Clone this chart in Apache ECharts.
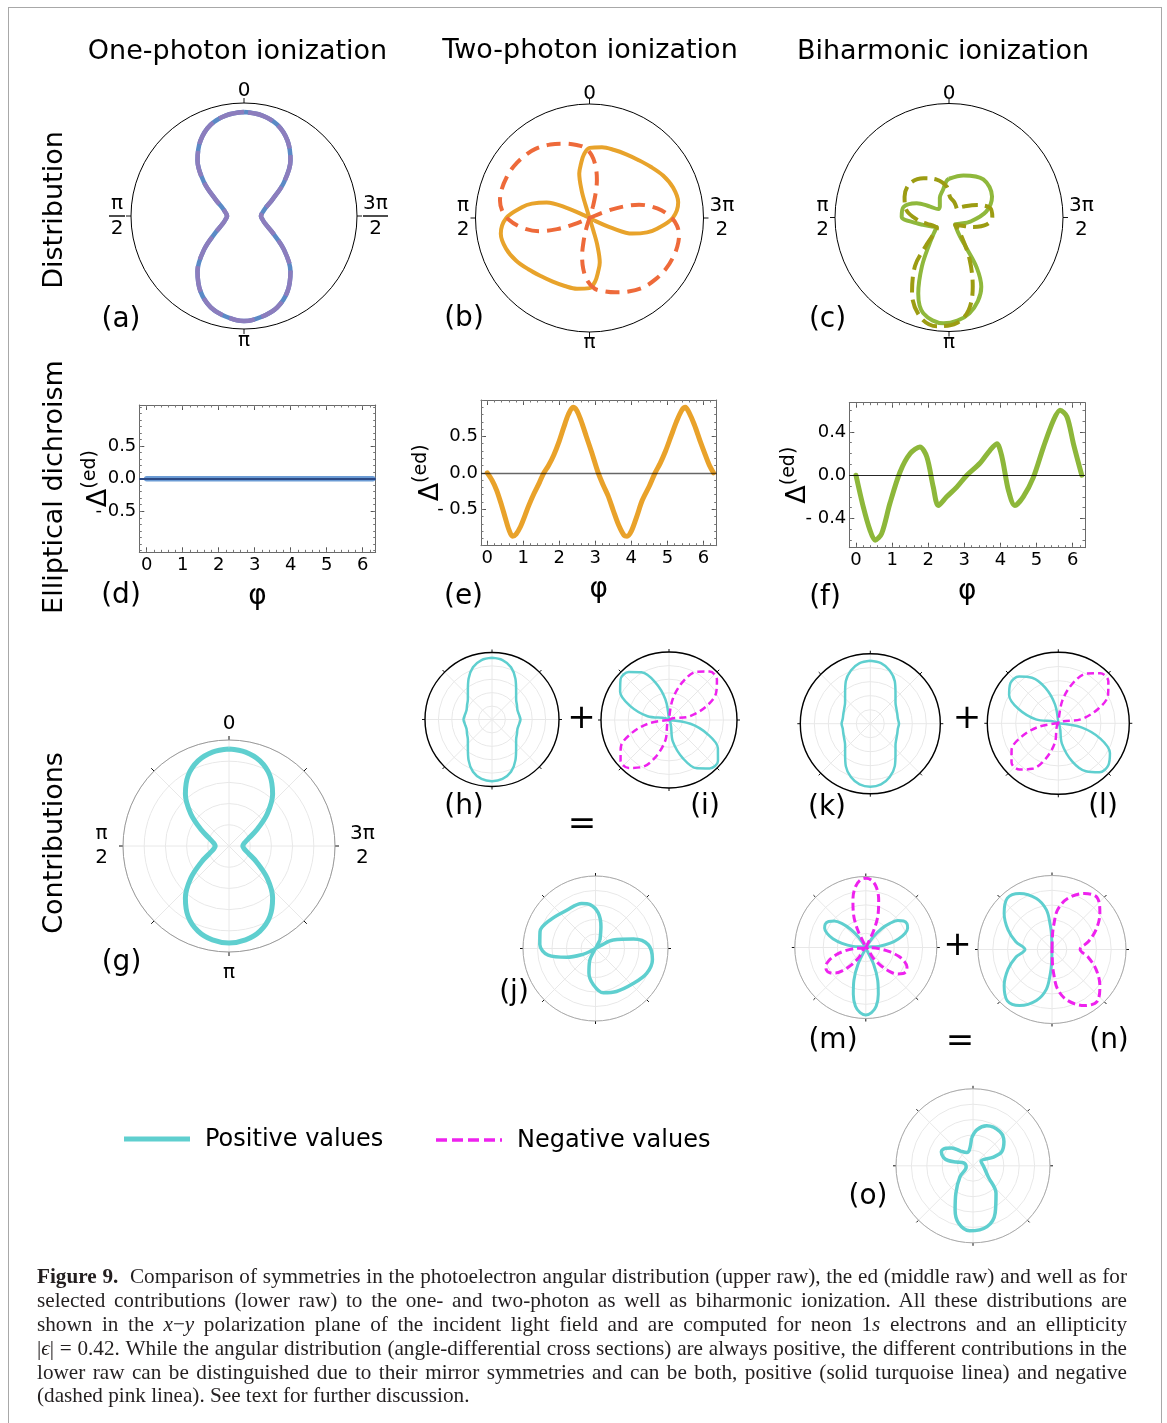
<!DOCTYPE html>
<html>
<head>
<meta charset="utf-8">
<title>Figure 9 – symmetries of photoelectron angular distributions</title>
<script src="https://cdn.jsdelivr.net/npm/echarts@6/dist/echarts.min.js"></script>
<style>
  html, body { margin: 0; padding: 0; background: #fff; }
  #frame { position: absolute; left: 8px; top: 7px; width: 1154px; height: 1440px; border: 1px solid #a8a8a8; box-sizing: border-box; }
  #chart { position: absolute; left: 0; top: 0; width: 1167px; height: 1423px; }
  #caption { position: absolute; left: 37px; top: 1265px; width: 1090px; font-family: "Liberation Serif", "DejaVu Serif", serif; font-size: 21.2px; line-height: 23.9px; color: #231f20; }
  #caption div { height: 23.9px; white-space: nowrap; }
  #caption span.j { display: inline-block; white-space: nowrap; }
</style>
</head>
<body>
<div id="frame"></div>
<div id="chart"></div>
<div id="caption">
  <div><span class="j"><b>Figure 9.</b>&nbsp; Comparison of symmetries in the photoelectron angular distribution (upper raw), the ed (middle raw) and well as for</span></div>
  <div><span class="j">selected contributions (lower raw) to the one- and two-photon as well as biharmonic ionization. All these distributions are</span></div>
  <div><span class="j">shown in the <i>x</i>−<i>y</i> polarization plane of the incident light field and are computed for neon 1<i>s</i> electrons and an ellipticity</span></div>
  <div><span class="j">|<i>ϵ</i>| = 0.42. While the angular distribution (angle-differential cross sections) are always positive, the different contributions in the</span></div>
  <div><span class="j">lower raw can be distinguished due to their mirror symmetries and can be both, positive (solid turquoise linea) and negative</span></div>
  <div><span>(dashed pink linea). See text for further discussion.</span></div>
</div>
<script>
// stretch the word gaps so that each full caption line spans the column width
document.querySelectorAll('#caption span.j').forEach(el => {
  const w = el.getBoundingClientRect().width;
  const gaps = (el.textContent.match(/[ \u00a0]/g) || []).length;
  if (gaps) el.style.wordSpacing = ((1090 - w) / gaps) + 'px';
});

const FONT = '"DejaVu Sans", Verdana, sans-serif';

// ---------- labels ----------
const columnTitles = ['One-photon ionization', 'Two-photon ionization', 'Biharmonic ionization'];
const rowTitles = ['Distribution', 'Elliptical dichroism', 'Contributions'];
const legendNames = ['Positive values', 'Negative values'];
const phiTicks = [0, 1, 2, 3, 4, 5, 6];
const edTicksDE = [-0.5, 0, 0.5];
const edTicksF = [-0.4, 0, 0.4];

// ---------- angular distributions: [angle in degrees, relative radius] ----------
// (a) one-photon, both helicities coincide
const oneDistPlus = [[0,0.92],[10,0.905],[20,0.86],[30,0.77],[40,0.64],[50,0.46],[60,0.29],[70,0.2],[80,0.165],[90,0.15],[100,0.165],[110,0.2],[120,0.29],[130,0.46],[140,0.64],[150,0.77],[160,0.86],[170,0.905],[180,0.93],[190,0.905],[200,0.86],[210,0.77],[220,0.64],[230,0.46],[240,0.29],[250,0.2],[260,0.165],[270,0.15],[280,0.165],[290,0.2],[300,0.29],[310,0.46],[320,0.64],[330,0.77],[340,0.86],[350,0.905],[360,0.92]];
const oneDistMinus = [[0,0.92],[10,0.905],[20,0.86],[30,0.77],[40,0.64],[50,0.46],[60,0.29],[70,0.2],[80,0.165],[90,0.15],[100,0.165],[110,0.2],[120,0.29],[130,0.46],[140,0.64],[150,0.77],[160,0.86],[170,0.905],[180,0.93],[190,0.905],[200,0.86],[210,0.77],[220,0.64],[230,0.46],[240,0.29],[250,0.2],[260,0.165],[270,0.15],[280,0.165],[290,0.2],[300,0.29],[310,0.46],[320,0.64],[330,0.77],[340,0.86],[350,0.905],[360,0.92]];

// (b) two-photon
const twoDistPlus = [[243,0.05],[246,0.22],[250,0.4],[256,0.52],[261,0.6],[270,0.73],[280,0.79],[290,0.78],[300,0.745],[310,0.7],[320,0.665],[330,0.645],[340,0.635],[350,0.63],[0,0.615],[5,0.56],[9,0.48],[13,0.4],[16,0.25],[17,0.12],[0,0],
  [197,0.12],[196,0.25],[193,0.4],[189,0.48],[185,0.56],[180,0.615],[170,0.63],[160,0.635],[150,0.645],[140,0.665],[130,0.7],[120,0.745],[110,0.78],[100,0.79],[90,0.73],[81,0.6],[76,0.52],[70,0.4],[66,0.22],[63,0.05],[0,0],[243,0.05]];
const twoDistMinus = [[343,0.1],[346,0.22],[349,0.34],[353,0.45],[358,0.55],[4,0.62],[10,0.65],[19,0.69],[28,0.73],[38,0.77],[47,0.79],[56,0.805],[64,0.81],[72,0.81],[79,0.8],[85,0.77],[91,0.71],[98,0.6],[105,0.45],[109,0.3],[112,0.15],[0,0],
  [292,0.15],[289,0.3],[285,0.45],[278,0.6],[271,0.71],[265,0.77],[259,0.8],[252,0.81],[244,0.81],[236,0.805],[227,0.79],[218,0.77],[208,0.73],[199,0.69],[190,0.65],[184,0.62],[178,0.55],[173,0.45],[169,0.34],[166,0.22],[163,0.1],[0,0],[343,0.1]];

// (c) biharmonic
const biDistPlus = [[0,0.34],[4,0.32],[12,0.25],[25,0.19],[40,0.125],[52,0.12],[60,0.19],[66,0.31],[77,0.41],[89,0.415],[100,0.29],[106,0.235],[118,0.17],[127,0.135],[136,0.19],[143,0.28],[151,0.49],[158,0.72],[165,0.87],[177,0.93],[192,0.86],[205,0.67],[209,0.5],[209.8,0.3],[210,0.19],[223,0.08],[240,0.11],[259,0.19],[279,0.33],[296,0.42],[318,0.45],[341,0.39],[360,0.34]];
const biDistMinus = [[320,0.105],[340,0.14],[357,0.18],[4,0.27],[18,0.35],[33,0.41],[49,0.455],[65,0.43],[80,0.38],[94,0.28],[106,0.2],[120,0.15],[131,0.14],[138,0.22],[141,0.33],[145,0.52],[154,0.74],[164,0.91],[173.5,0.96],[184,0.93],[192,0.83],[199,0.64],[206,0.415],[213.5,0.2],[219,0.085],[230,0.105],[249,0.23],[260,0.34],[270,0.38],[283,0.37],[294,0.27],[307,0.16],[320,0.105]];

// ---------- elliptical dichroism: [phi, Delta] ----------
const edOne = [[0,0],[1,0],[2,0],[3,0],[4,0],[5,0],[6,0],[6.28,0]];
const edTwo = [[0,0],[0.13,-0.1],[0.26,-0.24],[0.4,-0.45],[0.5,-0.62],[0.6,-0.78],[0.7,-0.87],[0.8,-0.84],[0.92,-0.74],[1.05,-0.58],[1.15,-0.45],[1.3,-0.28],[1.45,-0.13],[1.56,-0.01],[1.7,0.1],[1.85,0.25],[2.0,0.44],[2.12,0.62],[2.25,0.8],[2.38,0.9],[2.48,0.86],[2.6,0.72],[2.75,0.5],[2.9,0.28],[3.08,0],[3.22,-0.17],[3.35,-0.31],[3.5,-0.52],[3.65,-0.72],[3.8,-0.86],[3.88,-0.87],[4.0,-0.8],[4.15,-0.6],[4.3,-0.38],[4.5,-0.18],[4.66,0],[4.8,0.13],[4.95,0.3],[5.1,0.5],[5.25,0.7],[5.4,0.86],[5.5,0.9],[5.6,0.83],[5.75,0.66],[5.9,0.45],[6.05,0.25],[6.17,0.1],[6.28,0]];
const edBi = [[0,0],[0.2,-0.29],[0.39,-0.51],[0.53,-0.6],[0.71,-0.54],[0.94,-0.26],[1.22,0.03],[1.5,0.2],[1.77,0.26],[1.96,0.17],[2.14,-0.11],[2.28,-0.28],[2.51,-0.2],[2.79,-0.11],[3.07,0],[3.43,0.11],[3.71,0.23],[3.9,0.29],[4.04,0.17],[4.22,-0.14],[4.4,-0.28],[4.63,-0.2],[4.91,-0.02],[5.19,0.26],[5.47,0.51],[5.65,0.6],[5.84,0.54],[6.02,0.29],[6.25,0]];

// ---------- contributions: [angle in degrees, relative magnitude] ----------
const contribG = [[0,0.915],[10,0.9],[20,0.855],[30,0.77],[40,0.64],[50,0.47],[60,0.3],[70,0.19],[80,0.145],[90,0.13],[100,0.145],[110,0.19],[120,0.3],[130,0.47],[140,0.64],[150,0.77],[160,0.855],[170,0.9],[180,0.915],[190,0.9],[200,0.855],[210,0.77],[220,0.64],[230,0.47],[240,0.3],[250,0.19],[260,0.145],[270,0.13],[280,0.145],[290,0.19],[300,0.3],[310,0.47],[320,0.64],[330,0.77],[340,0.855],[350,0.9],[360,0.915]];
const contribH = [[0,0.92],[10,0.9],[20,0.83],[30,0.7],[40,0.56],[50,0.47],[60,0.43],[70,0.405],[80,0.41],[90,0.425],[100,0.41],[110,0.405],[120,0.43],[130,0.47],[140,0.56],[150,0.7],[160,0.83],[170,0.9],[180,0.92],[190,0.9],[200,0.83],[210,0.7],[220,0.56],[230,0.47],[240,0.43],[250,0.405],[260,0.41],[270,0.425],[280,0.41],[290,0.405],[300,0.43],[310,0.47],[320,0.56],[330,0.7],[340,0.83],[350,0.9],[360,0.92]];
const contribIPos = [[0,0],[10,0.31],[20,0.59],[30,0.81],[40,0.92],[50,0.93],[60,0.83],[70,0.61],[80,0.32],[90,0],[190,0.32],[200,0.6],[210,0.82],[220,0.93],[230,0.94],[240,0.83],[250,0.6],[260,0.32],[270,0]];
const contribINeg = [[90,0],[100,0.31],[110,0.6],[120,0.82],[130,0.93],[140,0.92],[150,0.8],[160,0.58],[170,0.3],[180,0],[280,0.3],[290,0.58],[300,0.8],[310,0.92],[320,0.93],[330,0.82],[340,0.6],[350,0.31],[360,0]];
const contribJ = [[332,0.13],[346,0.31],[355.5,0.49],[7,0.61],[17,0.65],[37,0.66],[58,0.74],[73,0.8],[86,0.77],[98,0.66],[107,0.415],[115,0.19],[120,0.06],[0,0],[300,0.08],[295.5,0.27],[284,0.54],[274,0.73],[259,0.8],[244,0.785],[227,0.71],[206,0.66],[190,0.62],[176.6,0.5],[165,0.35],[154,0.18],[150,0.06],[0,0],[332,0.13]];
const contribK = [[0,0.9],[10,0.88],[20,0.81],[30,0.7],[40,0.56],[50,0.47],[60,0.43],[70,0.41],[80,0.4],[90,0.41],[100,0.4],[110,0.41],[120,0.43],[130,0.47],[140,0.56],[150,0.7],[160,0.81],[170,0.88],[180,0.9],[190,0.88],[200,0.81],[210,0.7],[220,0.56],[230,0.47],[240,0.43],[250,0.41],[260,0.4],[270,0.41],[280,0.4],[290,0.41],[300,0.43],[310,0.47],[320,0.56],[330,0.7],[340,0.81],[350,0.88],[360,0.9]];
const contribLPos = [[0,0],[10,0.27],[20,0.53],[30,0.74],[40,0.86],[50,0.88],[60,0.8],[70,0.6],[80,0.32],[90,0],[190,0.29],[200,0.57],[210,0.78],[220,0.9],[230,0.92],[240,0.84],[250,0.63],[260,0.33],[270,0]];
const contribLNeg = [[90,0],[100,0.28],[110,0.55],[120,0.76],[130,0.86],[140,0.85],[150,0.74],[160,0.54],[170,0.28],[180,0],[280,0.32],[290,0.6],[300,0.81],[310,0.92],[320,0.92],[330,0.81],[340,0.6],[350,0.32],[360,0]];
const contribMPos = [[30,0],[35,0.18],[40,0.34],[45,0.48],[50,0.58],[55,0.64],[60,0.66],[65,0.64],[70,0.58],[75,0.48],[80,0.34],[85,0.18],[90,0],
  [155,0.26],[160,0.49],[165,0.68],[170,0.84],[175,0.92],[180,0.95],[185,0.92],[190,0.84],[195,0.68],[200,0.49],[205,0.26],[210,0],
  [275,0.18],[280,0.35],[285,0.48],[290,0.59],[295,0.65],[300,0.67],[305,0.65],[310,0.59],[315,0.48],[320,0.35],[325,0.18],[330,0]];
const contribMNeg = [[330,0],[335,0.26],[340,0.51],[345,0.7],[350,0.86],[355,0.95],[0,0.975],[5,0.95],[10,0.86],[15,0.7],[20,0.51],[25,0.26],[30,0],
  [95,0.17],[100,0.33],[105,0.46],[110,0.56],[115,0.62],[120,0.64],[125,0.62],[130,0.56],[135,0.46],[140,0.33],[145,0.17],[150,0],
  [215,0.18],[220,0.34],[225,0.48],[230,0.58],[235,0.64],[240,0.66],[245,0.64],[250,0.58],[255,0.48],[260,0.34],[265,0.18],[270,0]];
const contribNPos = [[0,0],[2,0.2],[4,0.33],[8,0.54],[17,0.72],[30,0.875],[41,0.92],[53,0.81],[66,0.65],[78,0.5],[90,0.365],[102,0.5],[114,0.65],[127,0.81],[139,0.92],[150,0.875],[163,0.72],[172,0.54],[176,0.33],[178,0.2],[180,0]];
const contribNNeg = [[360,0],[358,0.2],[356,0.33],[352,0.54],[343,0.72],[330,0.875],[319,0.93],[307,0.81],[294,0.65],[282,0.5],[270,0.38],[258,0.5],[246,0.65],[233,0.81],[221,0.93],[210,0.875],[197,0.72],[188,0.54],[184,0.33],[182,0.2],[180,0]];
const contribO = [[3,0.36],[13,0.21],[25,0.19],[40,0.25],[50,0.36],[57,0.42],[66,0.45],[74,0.4],[78,0.33],[77,0.22],[73,0.12],[100,0.09],[130,0.22],[148,0.42],[158,0.62],[166,0.77],[177,0.845],[193,0.81],[205,0.68],[220,0.465],[234,0.245],[265,0.14],[300,0.12],[293,0.29],[296,0.415],[308,0.51],[322,0.565],[341,0.55],[354,0.47],[3,0.36]];

// ---------- colours ----------
const TEAL = '#5fcfcf', MAGENTA = '#ee22ee';

// ---------- polar frames ----------
const polars = [], angleAxes = [], radiusAxes = [], series = [];
function makeRich(p) {
  const base = { fontSize: 20, fontFamily: FONT, color: '#000', align: 'center' };
  return {
    t: Object.assign({ lineHeight: p.topLH }, base),
    b: Object.assign({ lineHeight: p.botLH }, base),
    n: Object.assign({ lineHeight: 24 }, base),
    f: Object.assign({ lineHeight: 22 }, base),
    bar: { width: 16, height: 1.4, lineHeight: 3, fontSize: 2, backgroundColor: '#000', align: 'center' },
    bar2: { width: 25, height: 1.4, lineHeight: 3, fontSize: 2, backgroundColor: '#000', align: 'center' }
  };
}
function angleLabel(v, kind) {
  if (v === 0) return '{t|0}';
  if (v === 180) return '{b|π}';
  if (v === 90) return kind === 'frac' ? '{f|π}\n{bar| }\n{f|2}' : '{n|π}\n{n|2}';
  if (v === 270) return kind === 'frac' ? '{f|3π}\n{bar2| }\n{f|2}' : '{n|3π}\n{n|2}';
  return '';
}
function addPolar(p) {
  const i = polars.length;
  polars.push({ center: [p.c[0], p.c[1]], radius: p.R });
  angleAxes.push({
    polarIndex: i, type: 'value', min: 0, max: 360, interval: p.tick,
    startAngle: 90, clockwise: false,
    axisLine: { show: true, lineStyle: { color: p.ring, width: p.ringW } },
    axisTick: { show: true, length: p.tickLen, lineStyle: { color: '#111', width: 1 } },
    axisLabel: { show: !!p.labels, margin: p.margin || 6, formatter: v => angleLabel(v, p.labels), rich: makeRich(p) },
    splitLine: { show: p.grid, lineStyle: { color: '#e8e8e8', width: 1 } },
    splitArea: { show: false }
  });
  radiusAxes.push({
    polarIndex: i, type: 'value', min: 0, max: 1, interval: 0.2,
    axisLine: { show: false }, axisTick: { show: false }, axisLabel: { show: false },
    splitLine: { show: p.grid, lineStyle: { color: '#e8e8e8', width: 1 } }, splitArea: { show: false }
  });
  return i;
}
function polarLine(pi, pts, color, width, dash, z) {
  series.push({
    type: 'line', coordinateSystem: 'polar', polarIndex: pi,
    data: pts.map(([t, r]) => [r, t]),
    symbol: 'none', smooth: 0.35, silent: true, animation: false, z: z || 2,
    lineStyle: { color: color, width: width, type: dash || 'solid', cap: 'butt', join: 'round' }
  });
}

const pA = addPolar({ c: [244, 216], R: 113, ring: '#000', ringW: 1, grid: false, tick: 90, tickLen: 5, labels: 'frac', margin: 6, topLH: 13, botLH: 12 });
const pB = addPolar({ c: [589.5, 218], R: 114, ring: '#000', ringW: 1, grid: false, tick: 90, tickLen: 5, labels: 'stack', margin: 6, topLH: 8, botLH: 10 });
const pC = addPolar({ c: [949, 217.5], R: 114, ring: '#000', ringW: 1, grid: false, tick: 90, tickLen: 5, labels: 'stack', margin: 6, topLH: 8, botLH: 10 });
const pG = addPolar({ c: [229, 846], R: 106, ring: '#9a9a9a', ringW: 1, grid: true, tick: 45, tickLen: 4, labels: 'stack', margin: 15, topLH: 2, botLH: 12 });
const pH = addPolar({ c: [492, 719.5], R: 67, ring: '#000', ringW: 1.4, grid: true, tick: 45, tickLen: 3 });
const pI = addPolar({ c: [669, 720], R: 68, ring: '#000', ringW: 1.4, grid: true, tick: 45, tickLen: 3 });
const pJ = addPolar({ c: [595.5, 948.5], R: 72.5, ring: '#aaaaaa', ringW: 1, grid: true, tick: 45, tickLen: 3 });
const pK = addPolar({ c: [870.3, 723.7], R: 70, ring: '#000', ringW: 1.4, grid: true, tick: 45, tickLen: 3 });
const pL = addPolar({ c: [1058.3, 723.3], R: 71, ring: '#000', ringW: 1.4, grid: true, tick: 45, tickLen: 3 });
const pM = addPolar({ c: [865.8, 947.5], R: 71, ring: '#aaaaaa', ringW: 1, grid: true, tick: 45, tickLen: 3 });
const pN = addPolar({ c: [1052, 949.5], R: 74, ring: '#aaaaaa', ringW: 1, grid: true, tick: 45, tickLen: 3 });
const pO = addPolar({ c: [973, 1165.8], R: 77, ring: '#aaaaaa', ringW: 1, grid: true, tick: 45, tickLen: 3 });

polarLine(pA, oneDistPlus, '#5a8ac6', 4.5);
polarLine(pA, oneDistMinus, '#8c7dbd', 4.5, [26, 7], 3);
polarLine(pB, twoDistPlus, '#e8a32b', 4);
polarLine(pB, twoDistMinus, '#ee6a3a', 4, [14, 8], 3);
polarLine(pC, biDistPlus, '#8fb83c', 4);
polarLine(pC, biDistMinus, '#9c9c12', 4, [16, 7], 3);
polarLine(pG, contribG, TEAL, 5);
polarLine(pH, contribH, TEAL, 2.5);
polarLine(pI, contribIPos, TEAL, 2.5);
polarLine(pI, contribINeg, MAGENTA, 2.5, [7, 4], 3);
polarLine(pJ, contribJ, TEAL, 3.5);
polarLine(pK, contribK, TEAL, 2.5);
polarLine(pL, contribLPos, TEAL, 2.5);
polarLine(pL, contribLNeg, MAGENTA, 2.5, [7, 4], 3);
polarLine(pM, contribMPos, TEAL, 3);
polarLine(pM, contribMNeg, MAGENTA, 3, [8, 4], 3);
polarLine(pN, contribNPos, TEAL, 3);
polarLine(pN, contribNNeg, MAGENTA, 3, [8, 4], 3);
polarLine(pO, contribO, TEAL, 3.5);

// ---------- framed line plots ----------
const grids = [], xAxes = [], yAxes = [];
function steps(a, b, s) { const out = []; for (let k = 0; a + k * s <= b + 1e-9; k++) out.push(+(a + k * s).toFixed(3)); return out; }
function edLabel(v) { if (Math.abs(v) < 1e-9) return '0.0'; return v < 0 ? '- ' + Math.abs(v).toFixed(1) : v.toFixed(1); }
function addFrame(box, xr, yr, yMajor, yMinor, nameGapY) {
  const g = grids.length;
  grids.push({ left: box[0], top: box[1], width: box[2], height: box[3], containLabel: false, outerBoundsMode: 'none' });
  const frameLine = { show: true, onZero: false, lineStyle: { color: '#6a6a6a', width: 1 } };
  const noLine = { show: false, onZero: false };
  const xMinor = steps(0, 6.2, 0.2);
  const xi = xAxes.length;
  xAxes.push({
    type: 'value', gridIndex: g, min: xr[0], max: xr[1], position: 'bottom',
    axisLine: frameLine,
    axisTick: { show: true, inside: true, length: 5, customValues: phiTicks, lineStyle: { color: '#555' } },
    axisLabel: { show: true, customValues: phiTicks, margin: 4, fontSize: 18, fontFamily: FONT, color: '#000', formatter: v => String(Math.round(v)) },
    splitLine: { show: false },
    name: 'φ', nameLocation: 'middle', nameGap: 30, nameMoveOverlap: false,
    nameTextStyle: { fontSize: 28, fontFamily: FONT, color: '#000' }
  });
  xAxes.push({ type: 'value', gridIndex: g, min: xr[0], max: xr[1], position: 'top', axisLine: frameLine,
    axisTick: { show: true, inside: true, length: 5, customValues: phiTicks, lineStyle: { color: '#555' } },
    axisLabel: { show: false }, splitLine: { show: false } });
  xAxes.push({ type: 'value', gridIndex: g, min: xr[0], max: xr[1], position: 'bottom', axisLine: noLine,
    axisTick: { show: true, inside: true, length: 2.5, customValues: xMinor, lineStyle: { color: '#777' } },
    axisLabel: { show: false }, splitLine: { show: false } });
  xAxes.push({ type: 'value', gridIndex: g, min: xr[0], max: xr[1], position: 'top', axisLine: noLine,
    axisTick: { show: true, inside: true, length: 2.5, customValues: xMinor, lineStyle: { color: '#777' } },
    axisLabel: { show: false }, splitLine: { show: false } });
  const yi = yAxes.length;
  yAxes.push({
    type: 'value', gridIndex: g, min: yr[0], max: yr[1], position: 'left',
    axisLine: frameLine,
    axisTick: { show: true, inside: true, length: 5, customValues: yMajor, lineStyle: { color: '#555' } },
    axisLabel: { show: true, customValues: yMajor, margin: 3, fontSize: 18, fontFamily: FONT, color: '#000', formatter: edLabel },
    splitLine: { show: false },
    name: '{d|Δ}{s|(ed)}', nameLocation: 'middle', nameGap: nameGapY, nameMoveOverlap: false,
    nameTextStyle: { rich: {
      d: { fontSize: 27, fontFamily: FONT, color: '#000', lineHeight: 32, verticalAlign: 'bottom' },
      s: { fontSize: 19, fontFamily: FONT, color: '#000', lineHeight: 20, verticalAlign: 'top' } } }
  });
  yAxes.push({ type: 'value', gridIndex: g, min: yr[0], max: yr[1], position: 'right', axisLine: frameLine,
    axisTick: { show: true, inside: true, length: 5, customValues: yMajor, lineStyle: { color: '#555' } },
    axisLabel: { show: false }, splitLine: { show: false } });
  yAxes.push({ type: 'value', gridIndex: g, min: yr[0], max: yr[1], position: 'left', axisLine: noLine,
    axisTick: { show: true, inside: true, length: 2.5, customValues: yMinor, lineStyle: { color: '#777' } },
    axisLabel: { show: false }, splitLine: { show: false } });
  yAxes.push({ type: 'value', gridIndex: g, min: yr[0], max: yr[1], position: 'right', axisLine: noLine,
    axisTick: { show: true, inside: true, length: 2.5, customValues: yMinor, lineStyle: { color: '#777' } },
    axisLabel: { show: false }, splitLine: { show: false } });
  return { xi, yi };
}
function edLine(ax, pts, color, width, zeroColor, zeroWidth) {
  series.push({
    type: 'line', xAxisIndex: ax.xi, yAxisIndex: ax.yi, data: pts, symbol: 'none', smooth: 0.3,
    silent: true, animation: false, lineStyle: { color: color, width: width, cap: 'round', join: 'round' },
    markLine: { silent: true, symbol: 'none', animation: false, label: { show: false }, z: 5,
      lineStyle: { color: zeroColor, width: zeroWidth, type: 'solid' }, data: [{ yAxis: 0 }] }
  });
}
const axD = addFrame([139.3, 405, 236.4, 147.3], [-0.205, 6.36], [-1.13, 1.13], edTicksDE, steps(-1.1, 1.1, 0.1), 27);
const axE = addFrame([481, 400, 235.7, 145.7], [-0.175, 6.37], [-1.0, 1.0], edTicksDE, steps(-1.0, 1.0, 0.1), 37);
const axF = addFrame([849.3, 402.7, 235.7, 145], [-0.185, 6.34], [-0.67, 0.67], edTicksF, steps(-0.6, 0.6, 0.1), 38);
edLine(axD, edOne, '#6b9bd4', 5.5, '#2c4a86', 2);
edLine(axE, edTwo, '#e9a22a', 5, 'rgba(0,0,0,0.6)', 1.4);
edLine(axF, edBi, '#8db73a', 5, 'rgba(0,0,0,0.85)', 1.2);

// ---------- free text ----------
const graphics = [];
function txt(x, y, s, size, rot, align) {
  graphics.push({ type: 'text', x: x, y: y, rotation: rot || 0, silent: true, z: 10,
    style: { text: s, font: size + 'px ' + FONT, fill: '#000', align: align || 'center', verticalAlign: 'middle' } });
}
txt(237.5, 52, columnTitles[0], 27);
txt(590, 51, columnTitles[1], 27);
txt(943, 52, columnTitles[2], 27);
txt(55, 210, rowTitles[0], 27, Math.PI / 2);
txt(55, 487, rowTitles[1], 27, Math.PI / 2);
txt(55, 843, rowTitles[2], 27, Math.PI / 2);
[['(a)', 121, 320], ['(b)', 464, 319], ['(c)', 827.5, 320], ['(d)', 121, 596], ['(e)', 463.5, 597], ['(f)', 825, 598],
 ['(g)', 121.5, 963], ['(h)', 464, 807], ['(i)', 705, 807], ['(j)', 514, 993], ['(k)', 827, 808], ['(l)', 1103, 807],
 ['(m)', 833, 1041], ['(n)', 1109, 1041], ['(o)', 868, 1197]].forEach(([s, x, y]) => txt(x, y, s, 28));
[['+', 581.5, 719], ['+', 967, 719.5], ['+', 957.5, 946.5]].forEach(([s, x, y]) => txt(x, y, s, 34));
[['=', 582, 825], ['=', 960, 1042]].forEach(([s, x, y]) => txt(x, y, s, 34));

// legend keys
graphics.push({ type: 'line', silent: true, shape: { x1: 124, y1: 1139, x2: 190, y2: 1139 }, style: { stroke: TEAL, lineWidth: 5 } });
graphics.push({ type: 'line', silent: true, shape: { x1: 436, y1: 1140, x2: 502, y2: 1140 }, style: { stroke: MAGENTA, lineWidth: 3.5, lineDash: [11, 5] } });
txt(205, 1140, legendNames[0], 24, 0, 'left');
txt(517, 1141, legendNames[1], 24, 0, 'left');

const chart = echarts.init(document.getElementById('chart'), null, { renderer: 'canvas', width: 1167, height: 1423 });
chart.setOption({
  backgroundColor: 'transparent',
  animation: false,
  textStyle: { fontFamily: FONT },
  polar: polars,
  angleAxis: angleAxes,
  radiusAxis: radiusAxes,
  grid: grids,
  xAxis: xAxes,
  yAxis: yAxes,
  series: series,
  graphic: graphics
});
</script>
</body>
</html>
